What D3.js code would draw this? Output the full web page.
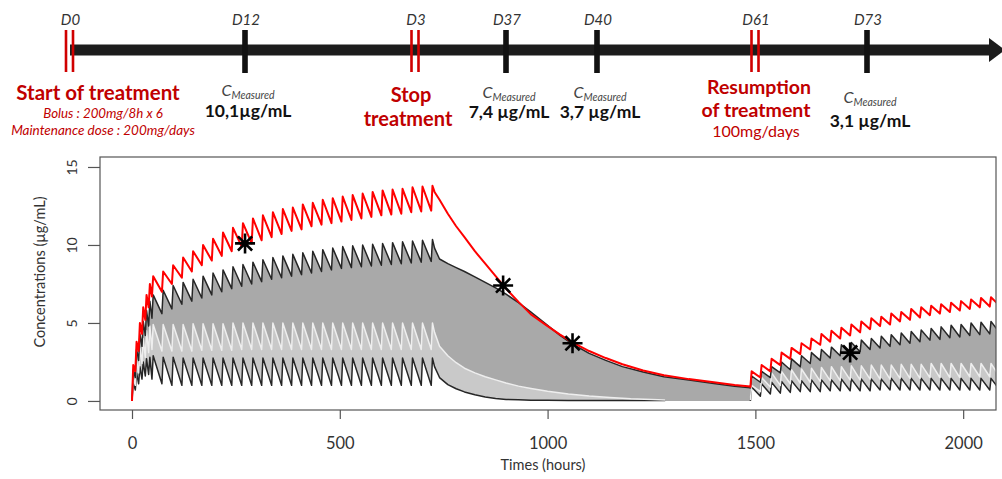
<!DOCTYPE html>
<html>
<head>
<meta charset="utf-8">
<script src="https://cdn.jsdelivr.net/npm/d3@7"></script>
<style>
  body { margin: 0; background: #fff; }
  svg { display: block; }
  text { font-family: Lato, "Open Sans", sans-serif; }
</style>
</head>
<body>
<div id="chart"></div>
<script>
// ---------- timeline ----------
const timelineDays = ['D0', 'D12', 'D3', 'D37', 'D40', 'D61', 'D73'];
const timelineKinds = ['treatment', 'measure', 'treatment', 'measure', 'measure', 'treatment', 'measure'];
const measuredLabels = ['10,1µg/mL', '7,4 µg/mL', '3,7 µg/mL', '3,1 µg/mL'];

// ---------- concentration chart ----------
const measuredTimes = [272, 893, 1060, 1728];
const measuredValues = [10.1, 7.4, 3.7, 3.1];

const xTicks = [0, 500, 1000, 1500, 2000];
const yTicks = [0, 5, 10, 15];

// doses: bolus q8h x6 then daily
const doseTimesInitial = [0, 8, 16, 24, 32, 40, 48, 72, 96, 120, 144, 168, 192, 216, 240, 264, 288, 312, 336, 360,
    384, 408, 432, 456, 480, 504, 528, 552, 576, 600, 624, 648, 672, 696, 720];
const doseTimesResumed = [1488, 1512, 1536, 1560, 1584, 1608, 1632, 1656, 1680, 1704, 1728, 1752, 1776, 1800, 1824,
    1848, 1872, 1896, 1920, 1944, 1968, 1992, 2016, 2040, 2064, 2088];

// individual prediction (red)
const redTrough1 = [0, 1.9, 3.2, 4.3, 5.2, 6.0, 6.7, 7.0, 7.5, 7.9, 8.3, 8.7, 9.0, 9.3, 9.6, 9.9, 10.1, 10.3, 10.5, 10.7,
    10.9, 11.0, 11.2, 11.3, 11.4, 11.5, 11.6, 11.7, 11.8, 11.9, 11.95, 12.0, 12.1, 12.15, 12.2];
const redPeak1 = [2.3, 3.8, 5.0, 6.0, 6.8, 7.5, 8.0, 8.3, 8.7, 9.2, 9.6, 10.0, 10.4, 10.8, 11.1, 11.4, 11.7, 11.9, 12.1, 12.3,
    12.4, 12.6, 12.7, 12.9, 13.0, 13.1, 13.2, 13.3, 13.4, 13.5, 13.55, 13.6, 13.7, 13.75, 13.8];
const redTrough2 = [0.9, 1.5, 1.9, 2.3, 2.7, 3.0, 3.3, 3.6, 3.8, 4.0, 4.2, 4.4, 4.6, 4.8, 4.9, 5.1, 5.2, 5.35, 5.5, 5.6,
    5.7, 5.8, 5.9, 6.0, 6.05, 6.1];
const redPeak2 = [1.9, 2.3, 2.7, 3.1, 3.4, 3.7, 4.0, 4.3, 4.5, 4.7, 4.9, 5.1, 5.3, 5.4, 5.6, 5.7, 5.9, 6.0, 6.1, 6.2,
    6.3, 6.4, 6.5, 6.6, 6.65, 6.7];

// upper bound of the interval (black)
const upperTrough1 = [0, 1.5, 2.6, 3.5, 4.2, 4.8, 5.3, 5.6, 5.9, 6.2, 6.4, 6.6, 6.8, 7.0, 7.2, 7.35, 7.5, 7.65, 7.8, 7.9,
    8.0, 8.1, 8.2, 8.3, 8.4, 8.5, 8.55, 8.6, 8.65, 8.7, 8.75, 8.8, 8.85, 8.9, 8.95];
const upperPeak1 = [2.0, 3.3, 4.3, 5.1, 5.8, 6.4, 6.8, 7.1, 7.4, 7.6, 7.8, 8.0, 8.2, 8.4, 8.6, 8.75, 8.9, 9.05, 9.2, 9.3,
    9.4, 9.5, 9.6, 9.7, 9.8, 9.9, 9.95, 10.0, 10.05, 10.1, 10.15, 10.2, 10.25, 10.3, 10.35];
const upperTrough2 = [0.8, 1.2, 1.5, 1.8, 2.0, 2.2, 2.4, 2.6, 2.75, 2.9, 3.0, 3.15, 3.3, 3.4, 3.5, 3.6, 3.7, 3.8, 3.9, 3.95,
    4.05, 4.1, 4.2, 4.25, 4.3, 4.35];
const upperPeak2 = [1.6, 1.9, 2.2, 2.5, 2.7, 2.9, 3.1, 3.3, 3.45, 3.6, 3.75, 3.9, 4.0, 4.15, 4.25, 4.35, 4.45, 4.55, 4.65, 4.75,
    4.85, 4.9, 5.0, 5.05, 5.1, 5.15];

// middle line (light)
const midTrough1 = [0, 1.0, 1.8, 2.4, 2.8, 3.1, 3.3, 3.2, 3.2, 3.2, 3.2, 3.25, 3.25, 3.25, 3.25, 3.3, 3.3, 3.3, 3.3, 3.3,
    3.3, 3.3, 3.3, 3.3, 3.3, 3.3, 3.3, 3.3, 3.3, 3.3, 3.3, 3.3, 3.3, 3.3, 3.3];
const midPeak1 = [1.5, 2.6, 3.4, 4.0, 4.5, 4.8, 4.9, 4.9, 4.9, 4.9, 4.95, 4.95, 4.95, 4.95, 5.0, 5.0, 5.0, 5.0, 5.0, 5.0,
    5.0, 5.0, 5.0, 5.0, 5.0, 5.0, 5.0, 5.0, 5.0, 5.0, 5.0, 5.0, 5.0, 5.0, 5.0];
const midTrough2 = [0.05, 0.6, 0.9, 1.0, 1.1, 1.15, 1.2, 1.25, 1.3, 1.3, 1.35, 1.35, 1.4, 1.4, 1.4, 1.45, 1.45, 1.45, 1.5, 1.5,
    1.5, 1.5, 1.55, 1.55, 1.55, 1.55];
const midPeak2 = [1.0, 1.5, 1.8, 1.9, 2.0, 2.05, 2.1, 2.15, 2.2, 2.2, 2.25, 2.25, 2.3, 2.3, 2.3, 2.35, 2.35, 2.35, 2.4, 2.4,
    2.4, 2.4, 2.4, 2.4, 2.4, 2.4];

// lower bound of the interval (black)
const lowTrough1 = [0, 0.7, 1.1, 1.4, 1.6, 1.7, 1.4, 1.1, 1.0, 1.0, 1.0, 1.0, 1.0, 1.0, 1.0, 1.0, 1.0, 1.0, 1.0, 1.0,
    1.0, 1.0, 1.0, 1.0, 1.0, 1.0, 1.0, 1.0, 1.0, 1.0, 1.0, 1.0, 1.0, 1.0, 1.0];
const lowPeak1 = [1.2, 1.8, 2.2, 2.5, 2.7, 2.8, 2.9, 2.8, 2.8, 2.75, 2.75, 2.75, 2.75, 2.75, 2.75, 2.75, 2.75, 2.75, 2.75, 2.75,
    2.75, 2.75, 2.75, 2.75, 2.75, 2.75, 2.75, 2.75, 2.75, 2.75, 2.75, 2.75, 2.75, 2.75, 2.75];
const lowTrough2 = [0, 0.3, 0.45, 0.5, 0.55, 0.6, 0.6, 0.6, 0.65, 0.65, 0.65, 0.65, 0.65, 0.7, 0.7, 0.7, 0.7, 0.7, 0.7, 0.7,
    0.7, 0.7, 0.7, 0.7, 0.7, 0.7];
const lowPeak2 = [0.9, 1.1, 1.2, 1.25, 1.3, 1.3, 1.35, 1.35, 1.35, 1.4, 1.4, 1.4, 1.4, 1.4, 1.45, 1.45, 1.45, 1.45, 1.45, 1.45,
    1.45, 1.45, 1.45, 1.45, 1.45, 1.45];

// wash-out after the stop
const decayTimesOuter = [728, 740, 760, 780, 800, 825, 850, 875, 900, 930, 960, 1000, 1030, 1060, 1100, 1140, 1180,
    1230, 1280, 1340, 1400, 1450, 1488];
const redDecay = [13.4, 12.9, 12.0, 11.2, 10.5, 9.6, 8.8, 8.0, 7.2, 6.35, 5.55, 4.8, 4.25, 3.75, 3.2, 2.75, 2.35,
    1.95, 1.65, 1.4, 1.2, 1.02, 0.92];
const upperDecay = [9.8, 9.1, 8.8, 8.55, 8.3, 7.95, 7.6, 7.25, 6.85, 6.3, 5.7, 4.85, 4.2, 3.65, 3.05, 2.6, 2.2,
    1.85, 1.55, 1.35, 1.12, 0.95, 0.85];
const decayTimesInner = [728, 740, 760, 780, 800, 825, 850, 875, 900, 930, 960, 1000, 1050, 1100, 1150, 1200, 1283];
const midDecay = [4.4, 3.5, 2.9, 2.45, 2.1, 1.8, 1.55, 1.35, 1.15, 0.95, 0.8, 0.62, 0.45, 0.32, 0.22, 0.14, 0.06];
const lowDecay = [2.2, 1.5, 1.05, 0.78, 0.58, 0.4, 0.26, 0.16, 0.1, 0.07, 0.05, 0.04, 0.03, 0.03, 0.03, 0.03, 0.03];


class Timeline {

    constructor(_config) {
        this.config = {
            parentElement: _config.parentElement,
            markX: [69.5, 245, 415, 506, 597, 755, 867],
            barY: 50
        }
        this.initVis();
    }

    initVis() {
        let vis = this;
        const red = '#c00000';

        vis.g = vis.config.parentElement.append('g').attr('class', 'timeline');

        vis.g.append('rect')
            .attr('x', 70).attr('y', vis.config.barY - 5.5)
            .attr('width', 922).attr('height', 11)
            .attr('fill', '#1c1c1c');
        vis.g.append('path')
            .attr('d', `M989,${vis.config.barY - 12}L1005,${vis.config.barY}L989,${vis.config.barY + 12}Z`)
            .attr('fill', '#1c1c1c');

        const marks = timelineDays.map((d, i) => ({ day: d, kind: timelineKinds[i], x: vis.config.markX[i] }));

        marks.forEach(m => {
            if (m.kind === 'treatment') {
                [-3.5, 3.5].forEach(off => {
                    vis.g.append('rect')
                        .attr('x', m.x + off - 1.3).attr('y', 30)
                        .attr('width', 2.6).attr('height', 42)
                        .attr('fill', '#d00000');
                });
            } else {
                vis.g.append('rect')
                    .attr('x', m.x - 2.8).attr('y', 30)
                    .attr('width', 5.6).attr('height', 43)
                    .attr('fill', '#111');
            }
            vis.g.append('text')
                .attr('x', m.x + 1).attr('y', 25)
                .attr('text-anchor', 'middle')
                .attr('font-size', 15).attr('font-style', 'italic')
                .attr('fill', '#333')
                .text(m.day);
        });

        const txt = (x, y, s, opts) => vis.g.append('text')
            .attr('x', x).attr('y', y)
            .attr('text-anchor', 'middle')
            .attr('font-size', opts.size)
            .attr('font-weight', opts.weight || 'normal')
            .attr('font-style', opts.style || 'normal')
            .attr('fill', opts.fill)
            .text(s);

        // treatment notes
        txt(98, 100, 'Start of treatment', { size: 20.5, weight: 'bold', fill: red });
        txt(103, 118, 'Bolus : 200mg/8h x 6', { size: 13.3, style: 'italic', fill: red });
        txt(103, 135, 'Maintenance dose : 200mg/days', { size: 13.5, style: 'italic', fill: red });
        txt(411, 102, 'Stop', { size: 20, weight: 'bold', fill: red });
        txt(408, 126, 'treatment', { size: 20, weight: 'bold', fill: red });
        txt(759, 94, 'Resumption', { size: 19.5, weight: 'bold', fill: red });
        txt(756, 117, 'of treatment', { size: 19.5, weight: 'bold', fill: red });
        txt(756, 137, '100mg/days', { size: 16, fill: red });

        // measured concentrations
        const measureMarks = marks.filter(m => m.kind === 'measure');
        const labelY = [[96, 117], [98, 118], [98, 118], [103, 127]];
        measureMarks.forEach((m, i) => {
            const cx = m.x + 3;
            const t = vis.g.append('text')
                .attr('x', cx).attr('y', labelY[i][0])
                .attr('text-anchor', 'middle')
                .attr('font-style', 'italic')
                .attr('fill', '#444');
            t.append('tspan').attr('font-size', 16).text('C');
            t.append('tspan').attr('font-size', 10.5).attr('dy', 3).text('Measured');
            txt(cx, labelY[i][1], measuredLabels[i], { size: 17.5, weight: 'bold', fill: '#111' });
        });
    }
}


class ConcentrationChart {

    constructor(_config) {
        this.config = {
            parentElement: _config.parentElement,
            left: 100, top: 157, width: 896, height: 253
        }
        this.initVis();
    }

    initVis() {
        let vis = this;
        const c = vis.config;

        vis.g = c.parentElement.append('g').attr('class', 'conc-chart');

        vis.x = d3.scaleLinear()
            .domain([-77, 2079])
            .range([c.left, c.left + c.width]);

        vis.y = d3.scaleLinear()
            .domain([-0.58, 15.64])
            .range([c.top + c.height, c.top]);

        vis.g.append('clipPath').attr('id', 'plot-clip')
            .append('rect')
            .attr('x', c.left).attr('y', c.top)
            .attr('width', c.width).attr('height', c.height);

        vis.plot = vis.g.append('g').attr('clip-path', 'url(#plot-clip)');

        vis.line = d3.line()
            .x(d => vis.x(d[0]))
            .y(d => vis.y(d[1]));

        vis.updateVis();
    }

    sawtooth(times, troughs, peaks) {
        const pts = [];
        times.forEach((t, i) => {
            pts.push([t, troughs[i]]);
            pts.push([t + 3, peaks[i]]);
        });
        return pts;
    }

    updateVis() {
        let vis = this;
        const c = vis.config;
        const pairs = (ts, vs) => ts.map((t, i) => [t, vs[i]]);

        const red = vis.sawtooth(doseTimesInitial, redTrough1, redPeak1)
            .concat(pairs(decayTimesOuter, redDecay))
            .concat(vis.sawtooth(doseTimesResumed, redTrough2, redPeak2));
        const upper1 = vis.sawtooth(doseTimesInitial, upperTrough1, upperPeak1).concat(pairs(decayTimesOuter, upperDecay));
        const mid1 = vis.sawtooth(doseTimesInitial, midTrough1, midPeak1).concat(pairs(decayTimesInner, midDecay));
        const low1 = vis.sawtooth(doseTimesInitial, lowTrough1, lowPeak1).concat(pairs(decayTimesInner, lowDecay));
        const upper2 = vis.sawtooth(doseTimesResumed, upperTrough2, upperPeak2);
        const mid2 = vis.sawtooth(doseTimesResumed, midTrough2, midPeak2);
        const low2 = vis.sawtooth(doseTimesResumed, lowTrough2, lowPeak2);

        const lastUpper = upper1[upper1.length - 1][0];
        const lastLow = low1[low1.length - 1][0];
        const floor1 = [[lastUpper, 0], [lastLow, 0]];

        const polygon = (top, bottom) => vis.line(top.concat(bottom.slice().reverse())) + 'Z';

        // interval bands
        vis.plot.append('path').attr('d', polygon(upper1, low1.concat(floor1.slice().reverse())))
            .attr('fill', '#a9a9a9');
        vis.plot.append('path').attr('d', polygon(upper2, low2)).attr('fill', '#a9a9a9');
        vis.plot.append('path').attr('d', polygon(mid1, low1)).attr('fill', '#c9c9c9');
        vis.plot.append('path').attr('d', polygon(mid2, low2)).attr('fill', '#c9c9c9');

        const drawLine = (pts, color, w) => vis.plot.append('path')
            .attr('d', vis.line(pts))
            .attr('fill', 'none')
            .attr('stroke', color)
            .attr('stroke-width', w)
            .attr('stroke-linejoin', 'round');

        drawLine(low1, '#262626', 1.5);
        drawLine(low2, '#262626', 1.5);
        drawLine(mid1, '#eeeeee', 1.5);
        drawLine(mid2, '#eeeeee', 1.5);
        drawLine(upper1, '#262626', 1.5);
        drawLine(upper2, '#262626', 1.5);
        drawLine(red, '#ff0000', 2);

        // measured points (asterisks)
        const r = 10, a = r * 0.71;
        vis.g.selectAll('.measure')
            .data(measuredTimes.map((t, i) => ({ t: t, v: measuredValues[i] })))
            .join('path')
            .attr('class', 'measure')
            .attr('transform', d => `translate(${vis.x(d.t)},${vis.y(d.v)})`)
            .attr('d', `M${-r},0L${r},0M0,${-r}L0,${r}M${-a},${-a}L${a},${a}M${-a},${a}L${a},${-a}`)
            .attr('stroke', '#000')
            .attr('stroke-width', 2.6)
            .attr('fill', 'none');

        // box
        vis.g.append('rect')
            .attr('x', c.left).attr('y', c.top)
            .attr('width', c.width).attr('height', c.height)
            .attr('fill', 'none')
            .attr('stroke', '#555')
            .attr('stroke-width', 1.2);

        // axes
        const xAxis = vis.g.append('g')
            .attr('transform', `translate(0,${c.top + c.height})`)
            .call(d3.axisBottom(vis.x).tickValues(xTicks).tickFormat(d3.format('d')).tickSize(9).tickPadding(18));
        const yAxis = vis.g.append('g')
            .attr('transform', `translate(${c.left},0)`)
            .call(d3.axisLeft(vis.y).tickValues(yTicks).tickSize(12));

        [xAxis, yAxis].forEach(ax => {
            ax.select('.domain').remove();
            ax.selectAll('line').attr('stroke', '#555').attr('stroke-width', 1.2);
            ax.selectAll('text').attr('fill', '#333').attr('font-family', 'Lato, sans-serif');
        });
        xAxis.selectAll('text').attr('font-size', 16.5);
        yAxis.selectAll('text')
            .attr('font-size', 14)
            .attr('x', 0).attr('dy', 0)
            .attr('text-anchor', 'middle')
            .attr('transform', 'translate(-23,0) rotate(-90)');

        vis.g.append('text')
            .attr('x', 543).attr('y', 470)
            .attr('text-anchor', 'middle')
            .attr('font-size', 14.5)
            .attr('fill', '#333')
            .text('Times (hours)');

        vis.g.append('text')
            .attr('transform', 'translate(45,272) rotate(-90)')
            .attr('text-anchor', 'middle')
            .attr('font-size', 14.5)
            .attr('fill', '#333')
            .text('Concentrations (µg/mL)');
    }
}

const svg = d3.select('#chart').append('svg')
    .attr('width', 1002)
    .attr('height', 479);

new Timeline({ parentElement: svg });
new ConcentrationChart({ parentElement: svg });
</script>
</body>
</html>
